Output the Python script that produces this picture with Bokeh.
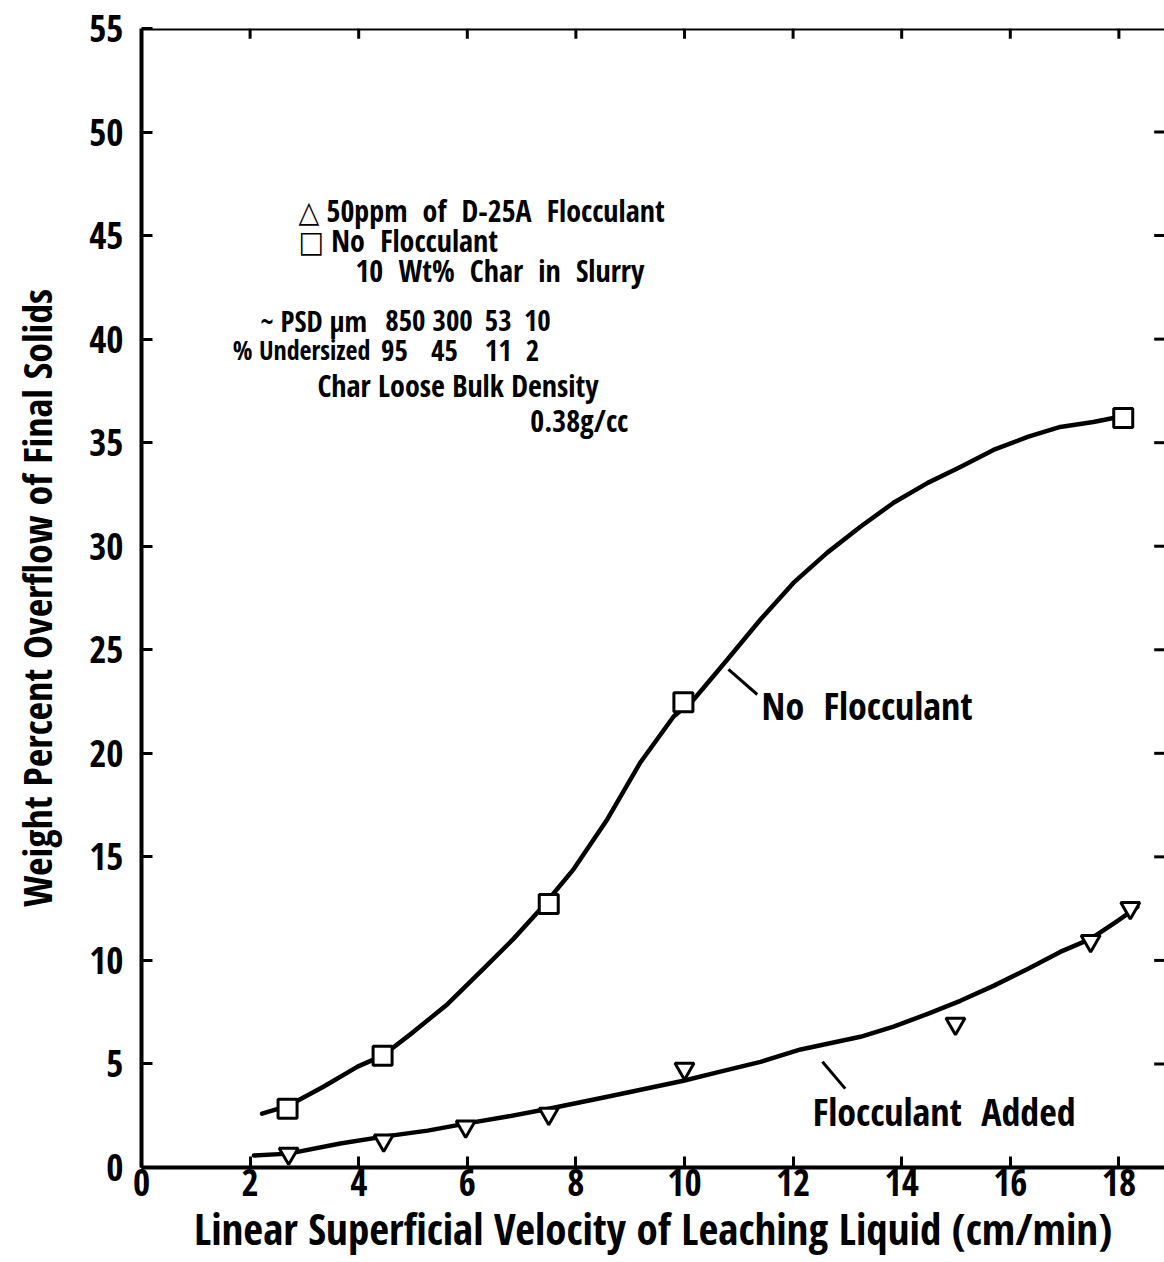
from bokeh.plotting import figure
from bokeh.models import LinearAxis, FixedTicker, Label, Range1d, Span
from bokeh.embed import file_html
from bokeh.resources import INLINE

# ---------------- data ----------------
nf_x = [2.69, 4.44, 7.50, 9.98, 18.08]          # No Flocculant (squares)
nf_y = [2.84, 5.40, 12.72, 22.46, 36.19]
fl_x = [2.71, 4.46, 5.97, 7.50, 10.00, 14.99, 17.48, 18.21]   # Flocculant added (triangles)
fl_y = [0.67, 1.30, 1.98, 2.60, 4.77, 6.94, 10.94, 12.53]

# hand-drawn fitted curves
nf_curve_x = [2.22, 2.71, 3.35, 3.98, 4.44, 5.01, 5.64, 6.24, 6.85, 7.35, 7.96, 8.58,
              9.19, 9.80, 10.17, 10.79, 11.40, 12.01, 12.63, 13.24, 13.85, 14.48,
              15.08, 15.69, 16.32, 16.92, 17.53, 17.90, 18.08]
nf_curve_y = [2.60, 2.99, 3.90, 4.87, 5.40, 6.55, 7.90, 9.45, 11.04, 12.48, 14.41, 16.82,
              19.57, 21.78, 22.60, 24.53, 26.46, 28.24, 29.69, 30.94, 32.10, 33.06,
              33.83, 34.65, 35.28, 35.76, 36.00, 36.19, 36.19]
fl_curve_x = [2.07, 2.71, 3.66, 4.46, 5.27, 5.97, 6.74, 7.50, 8.58, 9.98, 10.66,
              11.40, 12.14, 13.24, 13.85, 14.48, 15.08, 15.69, 16.32, 16.92, 17.48, 17.97, 18.34]
fl_curve_y = [0.58, 0.67, 1.16, 1.49, 1.78, 2.12, 2.46, 2.84, 3.42, 4.19, 4.63,
              5.10, 5.70, 6.31, 6.80, 7.42, 8.05, 8.77, 9.59, 10.41, 11.04, 11.90, 12.58]

x_ticks = [0, 2, 4, 6, 8, 10, 12, 14, 16, 18]
y_ticks = [0, 5, 10, 15, 20, 25, 30, 35, 40, 45, 50, 55]
inner_x_ticks = [2, 4, 6, 8, 10, 12, 14, 16, 18]
inner_y_ticks = [5, 10, 15, 20, 25, 30, 35, 40, 45, 50]

x_title = "Linear Superficial Velocity of Leaching Liquid (cm/min)"
y_title = "Weight Percent Overflow of Final Solids"

NB = "\u00a0"
note_lines = ["\u25b3 50ppm" + NB + " of" + NB + " D-25A" + NB + " Flocculant",
              "\u25a1 No" + NB + " Flocculant",
              "10" + NB + " Wt%" + NB + " Char" + NB + " in" + NB + " Slurry",
              "Char Loose Bulk Density",
              "0.38g/cc"]
psd_head = "~ PSD \u00b5m"
psd_sizes = ["850", "300", "53", "10"]
under_head = "% Undersized"
under_pct = ["95", "45", "11", "2"]

FONT = ("Open Sans Condensed, Roboto Condensed, Noto Sans Condensed, "
        "DejaVu Sans Condensed, Liberation Sans Narrow, Liberation Sans")

X_END = 18.84
Y_END = 55

p = figure(width=1164, height=1260, output_backend="svg", toolbar_location=None,
           x_range=Range1d(0, X_END), y_range=Range1d(0, Y_END),
           x_axis_location=None, y_axis_location=None,
           min_border_left=141, min_border_right=0, min_border_top=28, min_border_bottom=91)
p.outline_line_color = None
p.grid.visible = False
p.background_fill_color = "white"

def style_axis(ax, ticks):
    ax.ticker = FixedTicker(ticks=ticks)
    ax.axis_line_color = "black"
    ax.axis_line_width = 4
    ax.major_tick_line_color = "black"
    ax.major_tick_line_width = 3
    ax.major_tick_in = 11
    ax.major_tick_out = 0
    ax.minor_tick_line_color = None
    ax.major_label_text_font = FONT
    ax.major_label_text_font_style = "bold"
    ax.major_label_text_font_size = "37px"
    ax.major_label_text_color = "black"
    ax.axis_label_text_font = FONT
    ax.axis_label_text_font_style = "bold"
    ax.axis_label_text_color = "black"

bottom = LinearAxis(axis_label=x_title)
style_axis(bottom, x_ticks)
bottom.major_label_standoff = 1
bottom.axis_label_standoff = 0
bottom.axis_label_text_font_size = "43px"
p.add_layout(bottom, "below")

left = LinearAxis(axis_label=y_title)
style_axis(left, y_ticks)
left.major_label_standoff = 18
left.axis_label_standoff = 22
left.axis_label_text_font_size = "40px"
p.add_layout(left, "left")

# top frame line and inward ticks on top / right (no labels there)
p.add_layout(Span(location=Y_END, dimension="width", line_color="black", line_width=4))
p.segment(x0=inner_x_ticks, x1=inner_x_ticks, y0=[Y_END] * len(inner_x_ticks),
          y1=[Y_END - 0.5] * len(inner_x_ticks), line_color="black", line_width=3)
p.segment(x0=[X_END] * len(inner_y_ticks), x1=[X_END - 0.19] * len(inner_y_ticks),
          y0=inner_y_ticks, y1=inner_y_ticks, line_color="black", line_width=3)

# curves
p.line(nf_curve_x, nf_curve_y, line_color="black", line_width=4.5, line_join="round", line_cap="round")
p.line(fl_curve_x, fl_curve_y, line_color="black", line_width=4.5, line_join="round", line_cap="round")

# markers
p.scatter(nf_x, nf_y, marker="square", size=19, fill_color="white", line_color="black", line_width=3)
p.scatter(fl_x, fl_y, marker="inverted_triangle", size=19, fill_color="white", line_color="black", line_width=3)

def note(x, y, txt, size="30px", align="left"):
    p.add_layout(Label(x=x, y=y, text=txt, text_font=FONT, text_font_style="bold",
                       text_font_size=size, text_baseline="middle", text_align=align,
                       text_color="black"))

note_pos = [(2.89, 46.22), (2.89, 44.77), (3.94, 43.33), (3.24, 37.78), (7.16, 36.05)]
for txt, (tx, ty) in zip(note_lines, note_pos):
    note(tx, ty, txt)

note(2.19, 40.92, psd_head, size="29px")
for txt, cx in zip(psd_sizes, [4.86, 5.73, 6.57, 7.29]):
    note(cx, 40.92, txt, size="29px", align="center")
note(1.68, 39.47, under_head, size="26px")
for txt, cx in zip(under_pct, [4.66, 5.58, 6.57, 7.20]):
    note(cx, 39.47, txt, size="29px", align="center")

# curve labels with leader lines
note(11.42, 22.31, "No" + NB + " Flocculant", size="38px")
note(12.36, 2.75, "Flocculant" + NB + " Added", size="38px")
p.segment(x0=[10.81, 12.54], y0=[24.05, 5.11], x1=[11.34, 12.96], y1=[22.84, 3.81],
          line_color="black", line_width=3)

open("out.html", "w").write(file_html(p, INLINE))
